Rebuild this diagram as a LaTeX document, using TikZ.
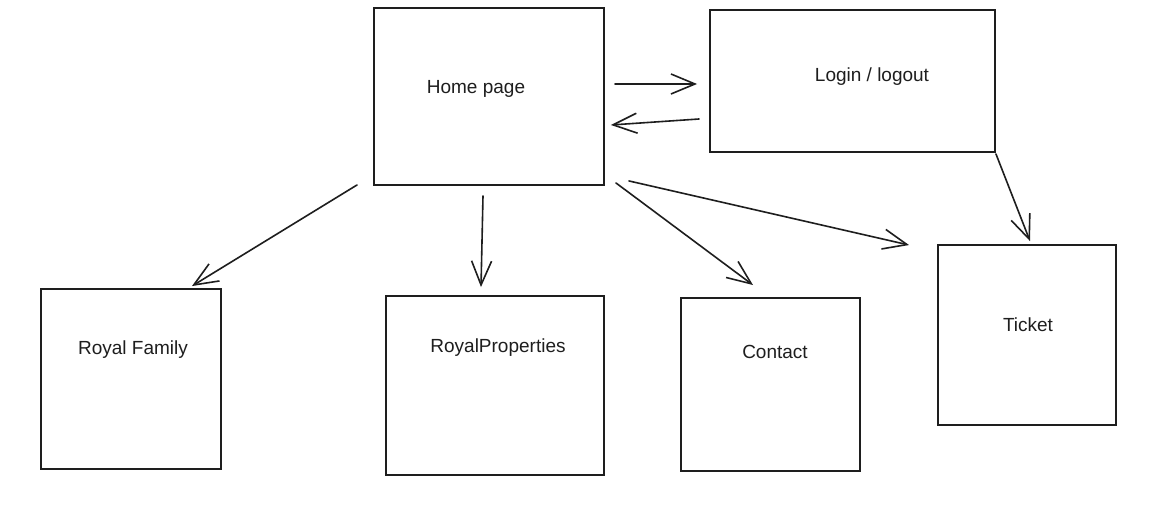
\documentclass[tikz,border=0pt]{standalone}
\usepackage{fontspec}
\setmainfont{Liberation Sans}
\usetikzlibrary{arrows.meta,calc}
\definecolor{ink}{HTML}{1E1E1E}
\tikzset{
  box/.style={draw=ink, line width=1.9pt, rectangle, inner sep=0pt, fill=white},
  lbl/.style={text=ink, font=\fontsize{19}{22}\selectfont, inner sep=0pt},
  conn/.style={draw=ink, line width=1.6pt, line cap=round,
    -{Straight Barb[length=24pt, width=20pt, line width=1.6pt]}}
}
\begin{document}
\begin{tikzpicture}[x=1pt,y=-1pt]
\useasboundingbox[fill=white] (0,0) rectangle (1171,518);
% boxes
\node[box, minimum width=230pt, minimum height=177pt] (home) at (489,96.5) {};
\node[box, minimum width=285pt, minimum height=142pt] (login) at (852.5,81) {};
\node[box, minimum width=180pt, minimum height=180pt] (rf) at (131,379) {};
\node[box, minimum width=218pt, minimum height=179pt] (rp) at (495,385.5) {};
\node[box, minimum width=179pt, minimum height=173pt] (contact) at (770.5,384.5) {};
\node[box, minimum width=178pt, minimum height=180pt] (ticket) at (1027,335) {};
% labels
\node[lbl] (thome) at (476,89) {Home page};
\node[lbl] (tlogin) at (872,77) {Login / logout};
\node[lbl] (trf) at (133,350) {Royal Family};
\node[lbl] (trp) at (498,348) {RoyalProperties};
\node[lbl] (tcontact) at (775,352) {Contact};
\node[lbl] (tticket) at (1028,325) {Ticket};
% connectors
\draw[conn] ($(home.east)+(10,-12.5)$) -- ($(login.west)+(-12,3)$);
\draw[conn] ($(login.west)+(-10,38)$) -- ($(home.east)+(6,28.5)$);
\draw[conn] ($(home.south west)+(-16,-1)$) -- ($(rf.north)+(61,-2)$);
\draw[conn] ($(home.south)+(-6,10)$) -- ($(rp.north)+(-14,-8)$);
\draw[conn] ($(home.south east)+(11,-3)$) -- ($(contact.north)+(-17.5,-12)$);
\draw[conn] ($(home.south east)+(24,-5)$) -- ($(ticket.north west)+(-28,1)$);
\draw[conn] ($(login.south east)+(0,1)$) -- ($(ticket.north)+(3,-3)$);
\end{tikzpicture}
\end{document}
